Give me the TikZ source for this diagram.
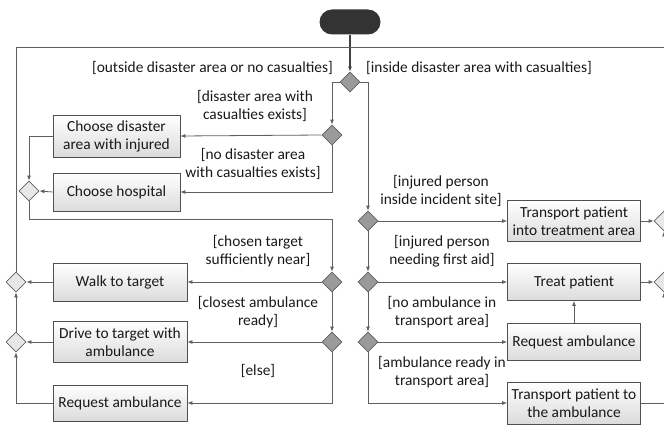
\documentclass[tikz,border=0pt]{standalone}
\usepackage{fontspec}
\setmainfont{Carlito}
\usetikzlibrary{shapes.geometric,arrows.meta}
\definecolor{linegray}{HTML}{606060}
\definecolor{boxgray}{HTML}{505050}
\definecolor{decgray}{HTML}{9A9A9A}
\definecolor{mergegray}{HTML}{E8E8E8}
\tikzset{
  action/.style={draw=boxgray, line width=0.8pt, top color=white, bottom color=gray!28,
    align=center, inner sep=2pt, minimum width=133pt, text=black!90},
  decision/.style={diamond, draw=linegray, line width=0.8pt, fill=decgray,
    minimum width=20pt, minimum height=20pt, inner sep=0pt},
  merge/.style={diamond, draw=linegray, line width=0.8pt, fill=mergegray,
    minimum width=20pt, minimum height=20pt, inner sep=0pt},
  flow/.style={draw=linegray, line width=0.8pt, -{Latex[length=5pt,width=4pt]}},
  plainflow/.style={draw=linegray, line width=0.8pt},
  guard/.style={align=center, text=black!90, inner sep=0pt}
}
\begin{document}
\begin{tikzpicture}[x=1pt, y=-1pt, font=\fontsize{15.4}{18}\selectfont]
  \useasboundingbox (0,0) rectangle (664,428);
  \clip (0,0) rectangle (664,428);

  \node[fill=black!80, rounded corners=12.5pt, minimum width=61pt, minimum height=25pt] (start) at (350,22) {};
  \coordinate (loopTop) at (350,47);

  \node[decision] (dA) at (350,82) {};
  \node[decision] (dB) at (332,135) {};
  \node[decision] (dC) at (332,282) {};
  \node[decision] (dD) at (332,342) {};
  \node[decision] (dE) at (368,221) {};
  \node[decision] (dF) at (368,282) {};
  \node[decision] (dG) at (368,342) {};

  \node[merge] (mA) at (29,191) {};
  \node[merge] (mB) at (16,282) {};
  \node[merge] (mC) at (16,342) {};
  \node[merge] (mD) at (664,221) {};
  \node[merge] (mE) at (664,282) {};

  \node[action, minimum width=127pt, minimum height=42pt] (chooseArea) at (116.5,136) {Choose disaster\\area with injured};
  \node[action, minimum width=127pt, minimum height=38pt] (chooseHosp) at (116.5,192) {Choose hospital};
  \node[action, minimum width=134pt, minimum height=38pt] (walk) at (120,282) {Walk to target};
  \node[action, minimum width=134pt, minimum height=41pt] (drive) at (120,342) {Drive to target with\\ambulance};
  \node[action, minimum width=134pt, minimum height=36pt] (reqLeft) at (120,403) {Request ambulance};
  \node[action, minimum height=41pt] (transTreat) at (574,221) {Transport patient\\into treatment area};
  \node[action, minimum height=37pt] (treat) at (574,282) {Treat patient};
  \node[action, minimum height=37pt] (reqRight) at (574,342) {Request ambulance};
  \node[action, minimum height=42pt] (transAmb) at (574,403) {Transport patient to\\the ambulance};
  \coordinate (underHosp) at (29,219);

  \node[guard, anchor=east] (gOutside) at (333,68) {[outside disaster area or no casualties]};
  \node[guard, anchor=west] (gInside) at (366,68) {[inside disaster area with casualties]};
  \node[guard] (gAreaYes) at (255,106) {[disaster area with\\casualties exists]};
  \node[guard] (gAreaNo) at (253,164) {[no disaster area\\with casualties exists]};
  \node[guard] (gNear) at (258,251) {[chosen target\\sufficiently near]};
  \node[guard] (gReady) at (258,312) {[closest ambulance\\ready]};
  \node[guard] (gElse) at (258,371) {[else]};
  \node[guard] (gSite) at (441,191) {[injured person\\inside incident site]};
  \node[guard] (gAid) at (442,251) {[injured person\\needing first aid]};
  \node[guard] (gNoAmb) at (442,312) {[no ambulance in\\transport area]};
  \node[guard] (gAmbReady) at (442,372) {[ambulance ready in\\transport area]};

  \draw[flow, draw=black!75, line width=1.6pt] (start) -- (dA);
  \draw[plainflow] (mB.north) |- (loopTop);
  \draw[plainflow] (mD.north) |- (loopTop);

  \draw[flow] (dA.west) -| (dB.north);
  \draw[flow] (dA.east) -| (dE.north);
  \draw[flow] (dB.west) -- (chooseArea.east);
  \draw[flow] (dB.south) |- (chooseHosp.east);
  \draw[flow] (chooseArea.west) -| (mA.north);
  \draw[flow] (chooseHosp.west) -- (mA.east);
  \draw[flow] (mA.south) -- (underHosp) -| (dC.north);
  \draw[flow] (dC.west) -- (walk.east);
  \draw[flow] (dC.south) -- (dD.north);
  \draw[flow] (dD.west) -- (drive.east);
  \draw[flow] (dD.south) |- (reqLeft.east);
  \draw[flow] (walk.west) -- (mB.east);
  \draw[flow] (drive.west) -- (mC.east);
  \draw[flow] (reqLeft.west) -| (mC.south);
  \draw[flow] (mC.north) -- (mB.south);

  \draw[flow] (dE.east) -- (transTreat.west);
  \draw[flow] (dE.south) -- (dF.north);
  \draw[flow] (dF.east) -- (treat.west);
  \draw[flow] (dF.south) -- (dG.north);
  \draw[flow] (dG.east) -- (reqRight.west);
  \draw[flow] (dG.south) |- (transAmb.west);
  \draw[flow] (reqRight.north) -- (treat.south);
  \draw[flow] (transTreat.east) -- (mD.west);
  \draw[flow] (treat.east) -- (mE.west);
  \draw[flow] (transAmb.east) -| (mE.south);
  \draw[flow] (mE.north) -- (mD.south);
\end{tikzpicture}
\end{document}
